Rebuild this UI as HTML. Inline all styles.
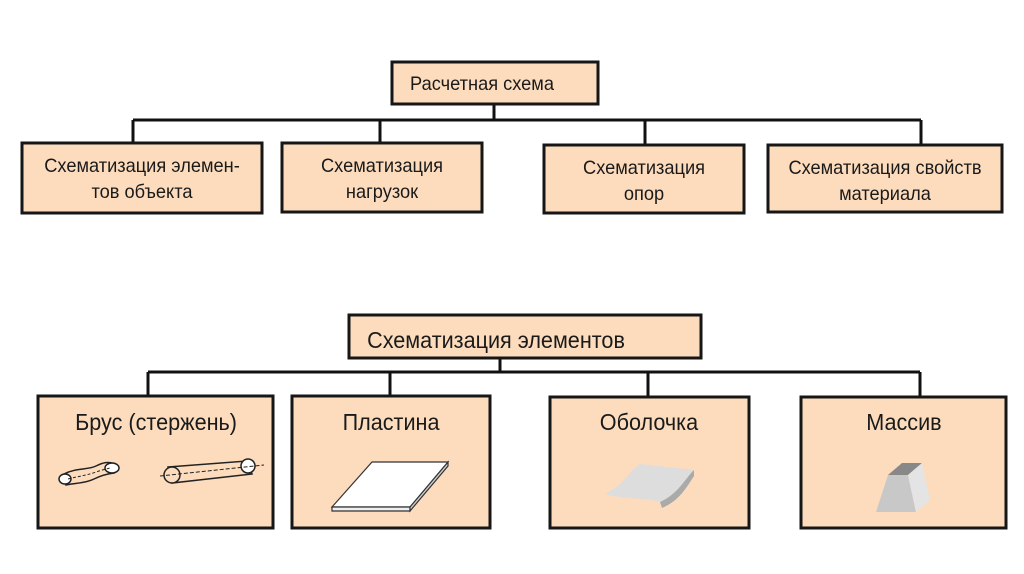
<!DOCTYPE html>
<html><head><meta charset="utf-8"><style>
html,body{margin:0;padding:0;background:#fff;}
svg{display:block;}
text{font-family:"Liberation Sans",sans-serif;fill:#1a1a1a;}
</style></head><body>
<svg width="1024" height="574" viewBox="0 0 1024 574" xmlns="http://www.w3.org/2000/svg">
<g fill="none" stroke="#111" stroke-width="3">
<path d="M494 104V120M133 120H921M133 120V143M380 120V143M645 120V145M921 120V145"/>
<path d="M500 358V372M148 372H920M148 372V396M390 372V396M648 372V397M920 372V397"/>
</g>
<g fill="#fcdcbd" stroke="#161616" stroke-width="3">
<rect x="392" y="62" width="206" height="42"/>
<rect x="22" y="143" width="240" height="70"/>
<rect x="282" y="143" width="200" height="69"/>
<rect x="544" y="145" width="200" height="68"/>
<rect x="768" y="145" width="234" height="67"/>
<rect x="349" y="315" width="352" height="43"/>
<rect x="38" y="396" width="235" height="132"/>
<rect x="292" y="396" width="198" height="132"/>
<rect x="550" y="397" width="199" height="131"/>
<rect x="801" y="397" width="205" height="131"/>
</g>
<g font-size="19" text-anchor="middle">
<text x="482" y="90" transform="translate(19.3 0) scale(0.96 1)">Расчетная схема</text>
<text x="142" y="172" transform="translate(5.7 0) scale(0.96 1)">Схематизация элемен-</text>
<text x="142" y="198" transform="translate(5.7 0) scale(0.96 1)">тов объекта</text>
<text x="382" y="172" transform="translate(15.3 0) scale(0.96 1)">Схематизация</text>
<text x="382" y="198" transform="translate(15.3 0) scale(0.96 1)">нагрузок</text>
<text x="644" y="174" transform="translate(25.8 0) scale(0.96 1)">Схематизация</text>
<text x="644" y="200" transform="translate(25.8 0) scale(0.96 1)">опор</text>
<text x="885" y="174" transform="translate(35.4 0) scale(0.96 1)">Схематизация свойств</text>
<text x="885" y="200" transform="translate(35.4 0) scale(0.96 1)">материала</text>
</g>
<g font-size="23" text-anchor="middle">
<text x="496" y="348" transform="translate(29.8 0) scale(0.94 1)">Схематизация элементов</text>
<text x="156" y="430" transform="translate(9.4 0) scale(0.94 1)">Брус (стержень)</text>
<text x="391" y="430" transform="translate(23.5 0) scale(0.94 1)">Пластина</text>
<text x="649" y="430" transform="translate(38.9 0) scale(0.94 1)">Оболочка</text>
<text x="904" y="430" transform="translate(54.2 0) scale(0.94 1)">Массив</text>
</g>
<g stroke="#222" stroke-width="1.5" fill="#fcdcbd">
<path d="M64 474 C75 468 88 470 96 466 C104 462 108 462 112 463 L114 473 C106 474 100 476 94 479 C86 483 76 483 66 485Z"/>
<ellipse cx="65" cy="479" rx="6" ry="5" fill="#fff"/>
<ellipse cx="112" cy="468" rx="7" ry="5" fill="#fff"/>
<path d="M68 479 C80 476 88 475 96 472 C102 470 106 469 110 468" stroke-dasharray="3 2" stroke-width="1" fill="none"/>
<path d="M168 467 L247 461 L252 474 L172 483Z"/>
<ellipse cx="172" cy="475" rx="8" ry="8"/>
<ellipse cx="248" cy="466" rx="7" ry="7" fill="#fff"/>
<path d="M160 476 L264 465" stroke-dasharray="4 2" stroke-width="1" fill="none"/>
</g>
<g stroke="#333" stroke-width="1.2">
<path d="M332 507 L372 462 L448 462 L410 507Z" fill="#fff"/>
<path d="M332 507 L410 507 L410 511 L332 511Z" fill="#eee"/>
<path d="M410 507 L448 462 L448 466 L410 511Z" fill="#ccc"/>
</g>
<g stroke="none">
<path d="M605 494 C625 484 630 470 640 464 L694 470 C684 480 678 494 660 502 C645 497 625 500 605 494Z" fill="#ddd"/>
<path d="M660 502 C678 494 684 480 694 470 L694 476 C686 488 680 500 662 508Z" fill="#aaa"/>
</g>
<g stroke="none">
<path d="M888 475 L902 463 L922 463 L908 475Z" fill="#888"/>
<path d="M888 475 L908 475 L916 512 L876 512Z" fill="#c8c8c8"/>
<path d="M908 475 L922 463 L930 500 L916 512Z" fill="#e4e4e4"/>
</g>
</svg>
</body></html>
